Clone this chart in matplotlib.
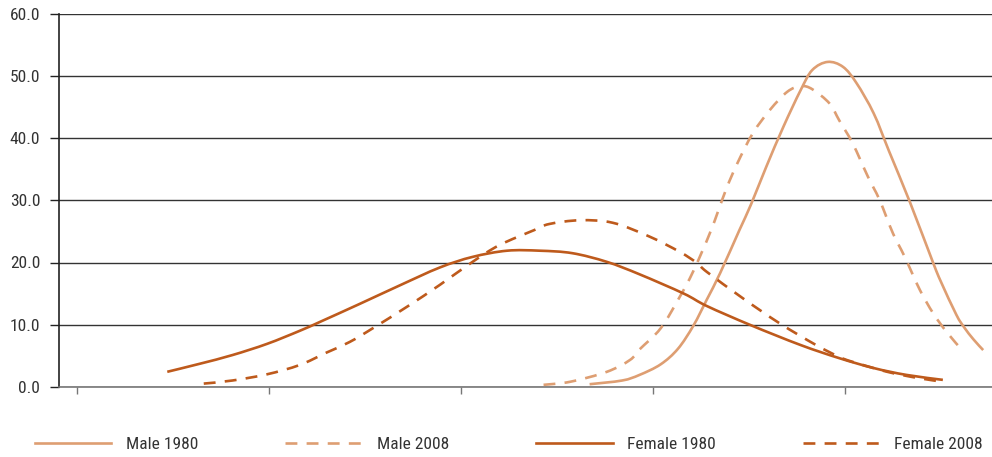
import matplotlib
matplotlib.use('Agg')
import matplotlib.pyplot as plt
from matplotlib.path import Path
from matplotlib.patches import PathPatch
from matplotlib.lines import Line2D

plt.rcParams['font.family'] = ['Roboto Condensed', 'DejaVu Sans']

# values
female_1980_x = [47, 64, 81, 99, 116, 127, 147, 168, 189, 206, 224, 241, 258,
                 276, 293, 316, 328, 351, 377, 397, 415, 432, 451]
female_1980_y = [2.4, 3.7, 5.1, 6.9, 9.0, 10.5, 13.3, 16.3, 19.2, 20.9, 21.9, 21.9, 21.5,
                 20.1, 18.1, 15.0, 13.0, 9.9, 6.7, 4.6, 3.0, 1.9, 1.1]

female_2008_x = [66, 81, 99, 116, 130, 142, 154, 172, 189, 206, 220, 238, 246, 262,
                 279, 298, 314, 323, 328, 347, 366, 385, 397, 404, 422, 438, 451]
female_2008_y = [0.5, 1.0, 2.0, 3.5, 5.5, 7.2, 9.4, 12.9, 16.4, 20.1, 22.8, 25.2, 26.2, 26.8,
                 26.4, 24.2, 21.7, 19.9, 18.5, 14.2, 10.2, 6.7, 4.8, 4.0, 2.4, 1.4, 0.8]

male_1980_x = [267, 284, 293, 304, 313, 321, 328, 335, 345, 351, 359, 368, 377, 383, 391,
               399, 406, 415, 423, 434, 446, 450, 458, 462, 467, 472]
male_1980_y = [0.4, 1.0, 1.9, 3.6, 6.1, 9.8, 14.0, 18.3, 25.2, 29.3, 35.4, 41.9, 47.8, 51.0, 52.3,
               51.5, 48.9, 44.0, 37.9, 29.6, 19.9, 16.9, 11.6, 9.6, 7.6, 5.9]

male_2008_x = [243, 257, 276, 288, 293, 304, 314, 321, 330, 338, 344, 352, 361, 370,
               377, 383, 392, 397, 404, 412, 418, 425, 431, 439, 446, 453, 461]
male_2008_y = [0.3, 0.8, 2.4, 4.3, 6.0, 9.4, 14.5, 18.6, 25.0, 31.7, 36.0, 40.8, 44.6, 47.5,
               48.4, 47.9, 45.6, 42.9, 39.2, 33.8, 30.1, 24.7, 21.0, 15.6, 11.8, 8.8, 5.9]

y_ticks = [0, 10, 20, 30, 40, 50, 60]
x_ticks = [0, 100, 200, 300, 400]

light = '#DE9E72'
dark = '#BE5A1C'
dash = (0, (4.5, 3.5))


def smooth_path(xs, ys):
    """Smoothed line through the points (catmull-rom drawn as bezier segments)"""
    pts = list(zip(xs, ys))
    verts = [pts[0]]
    codes = [Path.MOVETO]
    for i in range(len(pts) - 1):
        p0 = pts[i - 1] if i > 0 else pts[i]
        p1 = pts[i]
        p2 = pts[i + 1]
        p3 = pts[i + 2] if i + 2 < len(pts) else pts[i + 1]
        c1 = (p1[0] + (p2[0] - p0[0]) / 6, p1[1] + (p2[1] - p0[1]) / 6)
        c2 = (p2[0] - (p3[0] - p1[0]) / 6, p2[1] - (p3[1] - p1[1]) / 6)
        verts += [c1, c2, p2]
        codes += [Path.CURVE4] * 3
    return Path(verts, codes)


fig = plt.figure(figsize=(9.92, 4.57), dpi=100)
ax = fig.add_axes([59 / 992, 70.3 / 457, 933 / 992, 372.6 / 457])

series = [
    ('Male 1980', male_1980_x, male_1980_y, light, '-'),
    ('Male 2008', male_2008_x, male_2008_y, light, dash),
    ('Female 1980', female_1980_x, female_1980_y, dark, '-'),
    ('Female 2008', female_2008_x, female_2008_y, dark, dash),
]
handles = []
for name, xs, ys, col, ls in series:
    ax.add_patch(PathPatch(smooth_path(xs, ys), fill=False, edgecolor=col,
                           lw=1.9, linestyle=ls, capstyle='butt', zorder=3))
    handles.append(Line2D([], [], color=col, lw=1.9, linestyle=ls, label=name))

ax.set_xlim(-9.4, 476.6)
ax.set_ylim(0, 60)
ax.set_yticks(y_ticks)
ax.set_yticklabels(['%.1f' % v for v in y_ticks])
ax.set_xticks(x_ticks)
ax.set_xticklabels([])

ax.grid(axis='y', color='#333333', lw=1)
ax.set_axisbelow(True)
ax.spines['top'].set_visible(False)
ax.spines['right'].set_visible(False)
ax.spines['left'].set_color('#222222')
ax.spines['left'].set_linewidth(1.2)
ax.spines['bottom'].set_color('#777777')
ax.spines['bottom'].set_linewidth(1.2)
ax.tick_params(axis='y', length=6.5, width=1, color='#222222', labelsize=12.5,
               labelcolor='#333333', pad=7)
ax.tick_params(axis='x', length=5, width=1, color='#777777')

leg = fig.legend(handles=handles, loc='lower left', bbox_to_anchor=(0.028, -0.005, 0.97, 0.05),
                 mode='expand', ncol=4, frameon=False, fontsize=12.5,
                 handlelength=4.4, handletextpad=0.85, borderaxespad=0)
for t in leg.get_texts():
    t.set_color('#333333')

fig.savefig('out.png', dpi=100)
